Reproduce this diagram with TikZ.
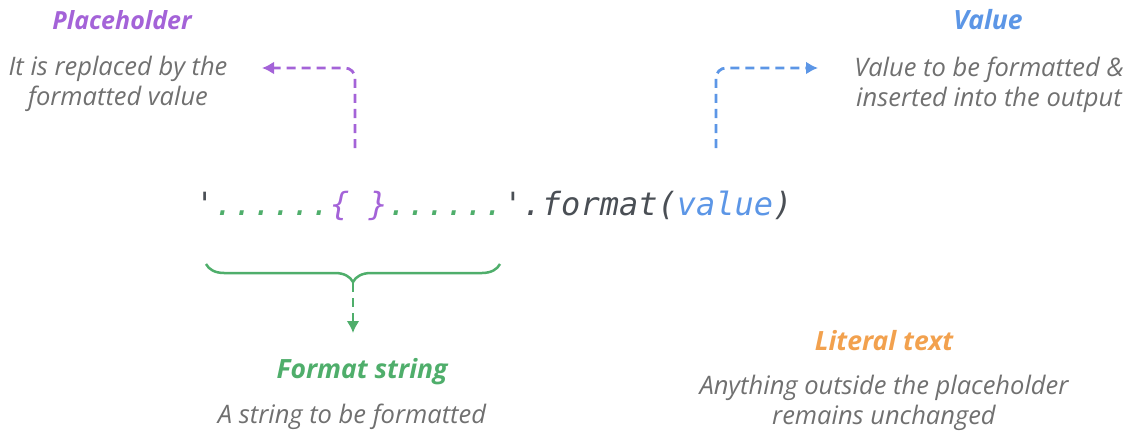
\documentclass[tikz,border=0pt]{standalone}
\usepackage{fontspec}
\setmainfont{Open Sans}
\setmonofont{DejaVu Sans Mono}
\usetikzlibrary{arrows.meta, decorations.pathreplacing, positioning}

\definecolor{phpurple}{HTML}{A463D8}
\definecolor{valblue}{HTML}{5C96E6}
\definecolor{fmtgreen}{HTML}{4FAE6B}
\definecolor{litorange}{HTML}{F2A14E}
\definecolor{descgray}{HTML}{707070}
\definecolor{codegray}{HTML}{4A4F55}

\tikzset{
  title/.style={font=\fontsize{26.5}{30}\selectfont\bfseries\itshape, inner sep=0pt},
  desc/.style={font=\fontsize{25.5}{30}\selectfont\itshape, text=descgray, align=center, inner sep=0pt},
  pointer/.style={line width=2.8pt, dash pattern=on 9pt off 6pt, -{Latex[length=12pt,width=13pt]}},
}

\begin{document}
\begin{tikzpicture}[x=1pt, y=-1pt]
\useasboundingbox (0,0) rectangle (1128,436);

% the call itself
\node[anchor=base west, inner sep=0pt, text=codegray,
      font=\fontsize{32}{36}\selectfont\ttfamily\itshape] (code) at (195,215)
  {'\textcolor{fmtgreen}{......}\textcolor{phpurple}{\{\ \}}\textcolor{fmtgreen}{......}'.format(\textcolor{valblue}{value})};

% placeholder
\node[title, text=phpurple, font=\fontsize{25}{30}\selectfont\bfseries\itshape] (phtitle) at (122,20) {Placeholder};
\node[desc] (phdesc) at (118,84) {It is replaced by the\\formatted value};
\coordinate (phfoot) at (355,148);
\coordinate (phend) at (262,68);
\draw[pointer, phpurple, rounded corners=10pt] (phfoot) |- (phend);

% value
\node[title, text=valblue] (valtitle) at (988,20) {Value};
\node[desc] (valdesc) at (989,85) {Value to be formatted \&\\inserted into the output};
\coordinate (valfoot) at (716,148);
\coordinate (valend) at (818,68);
\draw[pointer, valblue, rounded corners=10pt] (valfoot) |- (valend);

% format string
\draw[fmtgreen, line width=2.5pt, decorate, decoration={brace, mirror, amplitude=18pt}]
  (206,264) -- (500,264);
\coordinate (bracetip) at (353,283);
\coordinate (fmtend) at (353,333);
\draw[pointer, fmtgreen] (bracetip) -- (fmtend);
\node[title, text=fmtgreen] (fmttitle) at (362,372) {Format string};
\node[desc] (fmtdesc) at (352,417) {A string to be formatted};

% literal text
\node[title, text=litorange] (littitle) at (884,341) {Literal text};
\node[desc] (litdesc) at (884,403) {Anything outside the placeholder\\remains unchanged};

\end{tikzpicture}
\end{document}
